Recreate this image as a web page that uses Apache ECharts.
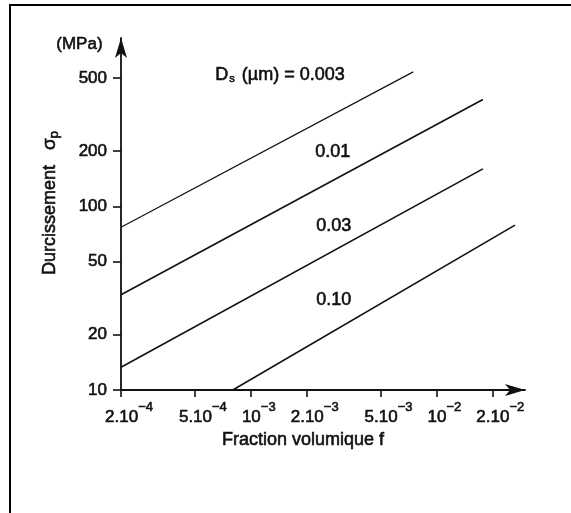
<!DOCTYPE html>
<html>
<head>
<meta charset="utf-8">
<script src="https://cdn.jsdelivr.net/npm/echarts@6/dist/echarts.min.js"></script>
<style>
  html, body { margin: 0; padding: 0; background: #fff; }
  #chart { width: 571px; height: 513px; }
</style>
</head>
<body>
<div id="chart"></div>
<script>
// tick values and their labels
const xTicks = [2e-4, 5e-4, 1e-3, 2e-3, 5e-3, 1e-2, 2e-2];
const xTickLabels = [['2.10', '−4'], ['5.10', '−4'], ['10', '−3'], ['2.10', '−3'], ['5.10', '−3'], ['10', '−2'], ['2.10', '−2']];
const yTicks = [10, 20, 50, 100, 200, 500];

// one straight line per precipitate diameter Ds (µm): [f start, f end], [sigma start, sigma end]
const diameters = ['0.003', '0.01', '0.03', '0.10'];
const fracD003 = [2e-4, 7.5e-3];
const sigD003 = [77, 540];
const fracD001 = [2e-4, 1.78e-2];
const sigD001 = [33, 382];
const fracD003b = [2e-4, 1.78e-2];
const sigD003b = [13.3, 160];
const fracD010 = [8e-4, 2.65e-2];
const sigD010 = [10, 79];

const lines = [
  [fracD003, sigD003],
  [fracD001, sigD001],
  [fracD003b, sigD003b],
  [fracD010, sigD010]
];

const font = 'Liberation Sans, Arial, sans-serif';
const ink = '#111';
// scanned print looks a bit heavier than plain Liberation Sans
const heavy = { textBorderColor: ink, textBorderWidth: 0.6 };

function nearest(list, v) {
  let best = 0;
  list.forEach((t, i) => {
    if (Math.abs(Math.log10(t) - Math.log10(v)) < Math.abs(Math.log10(list[best]) - Math.log10(v))) best = i;
  });
  return best;
}

const chart = echarts.init(document.getElementById('chart'));

chart.setOption({
  animation: false,
  backgroundColor: '#fff',
  grid: { left: 121, right: 46, top: 38, bottom: 123, containLabel: false, outerBoundsMode: 'none' },
  xAxis: {
    type: 'log',
    logBase: 10,
    min: 2e-4,
    max: 3e-2,
    name: 'Fraction volumique f',
    nameLocation: 'middle',
    nameGap: 41,
    nameTextStyle: { fontFamily: font, fontSize: 18, color: ink, padding: [0, 40, 0, 0], ...heavy },
    axisLine: { lineStyle: { color: ink, width: 1.8 }, symbol: ['none', 'arrow'], symbolSize: [9, 20] },
    axisTick: { customValues: xTicks, length: 7, lineStyle: { color: ink, width: 1.6 } },
    axisLabel: {
      customValues: xTicks,
      margin: 11,
      color: ink,
      fontFamily: font,
      padding: [0, 0, 0, 16],
      formatter: v => {
        const l = xTickLabels[nearest(xTicks, v)];
        return '{b|' + l[0] + '}{e|' + l[1] + '}';
      },
      rich: {
        b: { fontSize: 17, fontFamily: font, color: ink, lineHeight: 25, verticalAlign: 'bottom', ...heavy },
        e: { fontSize: 13, fontFamily: font, color: ink, lineHeight: 13, verticalAlign: 'top', ...heavy }
      }
    },
    splitLine: { show: false },
    minorTick: { show: false }
  },
  yAxis: {
    type: 'log',
    logBase: 10,
    min: 10,
    max: 826,
    name: '{t|Durcissement}   {s|σ}{p|p}',
    nameLocation: 'middle',
    nameGap: 60,
    nameRotate: 90,
    nameTextStyle: {
      fontFamily: font, fontSize: 18, color: ink, padding: [0, 0, 0, 22],
      rich: {
        t: { fontSize: 18, fontFamily: font, color: ink, lineHeight: 22, verticalAlign: 'middle', ...heavy },
        s: { fontSize: 19, fontFamily: font, color: ink, lineHeight: 22, verticalAlign: 'middle', ...heavy },
        p: { fontSize: 13, fontFamily: font, color: ink, lineHeight: 13, verticalAlign: 'bottom', ...heavy }
      }
    },
    axisLine: { lineStyle: { color: ink, width: 1.8 }, symbol: ['none', 'arrow'], symbolSize: [9, 20] },
    axisTick: { customValues: yTicks, length: 8, lineStyle: { color: ink, width: 1.6 } },
    axisLabel: {
      customValues: yTicks,
      margin: 14,
      color: ink,
      fontFamily: font,
      fontSize: 17,
      ...heavy,
      formatter: v => String(yTicks[nearest(yTicks, v)])
    },
    splitLine: { show: false },
    minorTick: { show: false }
  },
  series: lines.map((ln, i) => ({
    name: diameters[i],
    type: 'line',
    symbol: 'none',
    clip: false,
    silent: true,
    lineStyle: { color: ink, width: i === 0 ? 1.2 : 1.6 },
    data: ln[0].map((f, k) => [f, ln[1][k]])
  })),
  graphic: [
    { type: 'line', shape: { x1: 10, y1: 4, x2: 10, y2: 513 }, style: { stroke: '#000', lineWidth: 2 } },
    { type: 'line', shape: { x1: 9, y1: 5, x2: 571, y2: 5 }, style: { stroke: '#000', lineWidth: 2 } },
    { type: 'text', left: 56, top: 36, style: { text: '(MPa)', fontFamily: font, fontSize: 17, fill: ink, stroke: ink, lineWidth: 0.6 } },
    {
      type: 'text', left: 215, top: 66,
      style: {
        text: 'D{s|s} (µm) = ' + diameters[0],
        fontFamily: font, fontSize: 18, fill: ink, stroke: ink, lineWidth: 0.6,
        rich: {
          s: { fontSize: 11, fontFamily: font, fill: ink, verticalAlign: 'bottom', lineHeight: 15, padding: [0, 2, 0, 1] }
        }
      }
    },
    { type: 'text', left: 315, top: 143, style: { text: diameters[1], fontFamily: font, fontSize: 18, fill: ink, stroke: ink, lineWidth: 0.6 } },
    { type: 'text', left: 316, top: 217, style: { text: diameters[2], fontFamily: font, fontSize: 18, fill: ink, stroke: ink, lineWidth: 0.6 } },
    { type: 'text', left: 316, top: 291, style: { text: diameters[3], fontFamily: font, fontSize: 18, fill: ink, stroke: ink, lineWidth: 0.6 } }
  ]
});
</script>
</body>
</html>
